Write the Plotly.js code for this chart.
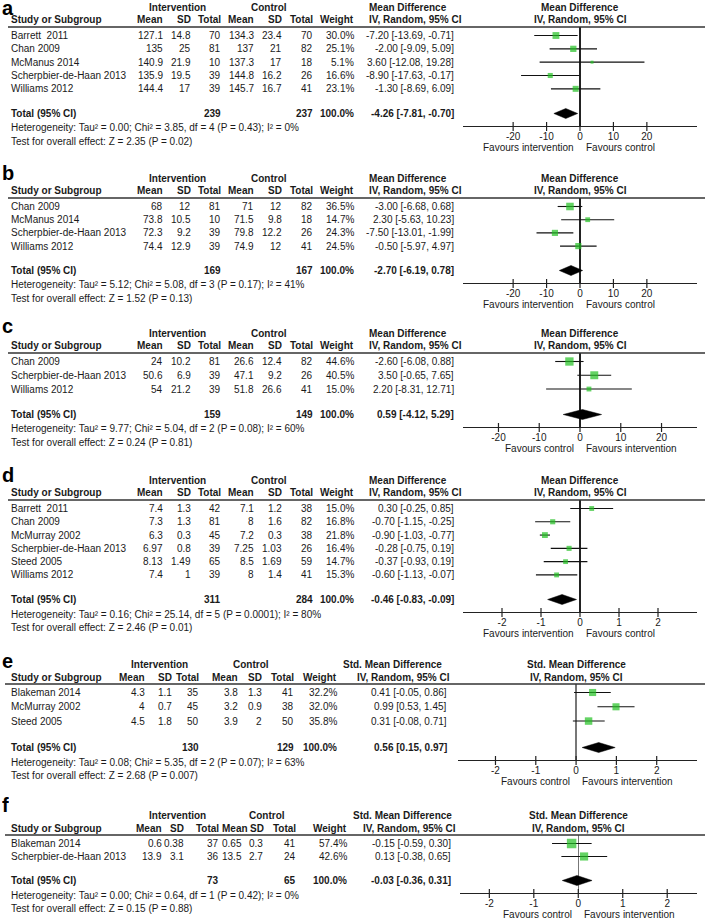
<!DOCTYPE html>
<html><head><meta charset="utf-8">
<script src="https://cdn.plot.ly/plotly-3.0.1.min.js"></script>
<style>html,body{margin:0;padding:0;background:#fff}#chart{width:709px;height:920px}</style>
</head><body><div id="chart"></div>
<script>
// ---------------- DATA ----------------
const panelLetters = ['a','b','c','d','e','f'];
const studyNames = [
  ['Barrett  2011','Chan 2009','McManus 2014','Scherpbier-de-Haan 2013','Williams 2012'],
  ['Chan 2009','McManus 2014','Scherpbier-de-Haan 2013','Williams 2012'],
  ['Chan 2009','Scherpbier-de-Haan 2013','Williams 2012'],
  ['Barrett  2011','Chan 2009','McMurray 2002','Scherpbier-de-Haan 2013','Steed 2005','Williams 2012'],
  ['Blakeman 2014','McMurray 2002','Steed 2005'],
  ['Blakeman 2014','Scherpbier-de-Haan 2013']
];
const intMean = [[127.1,135,140.9,135.9,144.4],[68,73.8,72.3,74.4],[24,50.6,54],[7.4,7.3,6.3,6.97,8.13,7.4],[4.3,4,4.5],[0.6,13.9]];
const intSD   = [[14.8,25,21.9,19.5,17],[12,10.5,9.2,12.9],[10.2,6.9,21.2],[1.3,1.3,0.3,0.8,1.49,1],[1.1,0.7,1.8],[0.38,3.1]];
const intTotal= [[70,81,10,39,39],[81,10,39,39],[81,39,39],[42,81,45,39,65,39],[35,45,50],[37,36]];
const ctlMean = [[134.3,137,137.3,144.8,145.7],[71,71.5,79.8,74.9],[26.6,47.1,51.8],[7.1,8,7.2,7.25,8.5,8],[3.8,3.2,3.9],[0.65,13.5]];
const ctlSD   = [[23.4,21,17,16.2,16.7],[12,9.8,12.2,12],[12.4,9.2,26.6],[1.2,1.6,0.3,1.03,1.69,1.4],[1.3,0.9,2],[0.3,2.7]];
const ctlTotal= [[70,82,18,26,41],[82,18,26,41],[82,26,41],[38,82,38,26,59,41],[41,38,50],[41,24]];
const weights = [[30.0,25.1,5.1,16.6,23.1],[36.5,14.7,24.3,24.5],[44.6,40.5,15.0],[15.0,16.8,21.8,16.4,14.7,15.3],[32.2,32.0,35.8],[57.4,42.6]];
const effect  = [[-7.20,-2.00,3.60,-8.90,-1.30],[-3.00,2.30,-7.50,-0.50],[-2.60,3.50,2.20],[0.30,-0.70,-0.90,-0.28,-0.37,-0.60],[0.41,0.99,0.31],[-0.15,0.13]];
const ciLow   = [[-13.69,-9.09,-12.08,-17.63,-8.69],[-6.68,-5.63,-13.01,-5.97],[-6.08,-0.65,-8.31],[-0.25,-1.15,-1.03,-0.75,-0.93,-1.13],[-0.05,0.53,-0.08],[-0.59,-0.38]];
const ciHigh  = [[-0.71,5.09,19.28,-0.17,6.09],[0.68,10.23,-1.99,4.97],[0.88,7.65,12.71],[0.85,-0.25,-0.77,0.19,0.19,-0.07],[0.86,1.45,0.71],[0.30,0.65]];
const pooledIntN = [239,169,159,311,130,73];
const pooledCtlN = [237,167,149,284,129,65];
const pooledEffect = [-4.26,-2.70,0.59,-0.46,0.56,-0.03];
const pooledLow  = [-7.81,-6.19,-4.12,-0.83,0.15,-0.36];
const pooledHigh = [-0.70,0.78,5.29,-0.09,0.97,0.31];
const heterogeneity = [
  'Heterogeneity: Tau² = 0.00; Chi² = 3.85, df = 4 (P = 0.43); I² = 0%',
  'Heterogeneity: Tau² = 5.12; Chi² = 5.08, df = 3 (P = 0.17); I² = 41%',
  'Heterogeneity: Tau² = 9.77; Chi² = 5.04, df = 2 (P = 0.08); I² = 60%',
  'Heterogeneity: Tau² = 0.16; Chi² = 25.14, df = 5 (P = 0.0001); I² = 80%',
  'Heterogeneity: Tau² = 0.08; Chi² = 5.35, df = 2 (P = 0.07); I² = 63%',
  'Heterogeneity: Tau² = 0.00; Chi² = 0.64, df = 1 (P = 0.42); I² = 0%'
];
const overallTest = [
  'Test for overall effect: Z = 2.35 (P = 0.02)',
  'Test for overall effect: Z = 1.52 (P = 0.13)',
  'Test for overall effect: Z = 0.24 (P = 0.81)',
  'Test for overall effect: Z = 2.46 (P = 0.01)',
  'Test for overall effect: Z = 2.68 (P = 0.007)',
  'Test for overall effect: Z = 0.15 (P = 0.88)'
];
const effectMeasure = ['Mean Difference','Mean Difference','Mean Difference','Mean Difference','Std. Mean Difference','Std. Mean Difference'];
const methodLabel = 'IV, Random, 95% CI';
const favoursLeft  = ['Favours intervention','Favours intervention','Favours control','Favours intervention','Favours control','Favours control'];
const favoursRight = ['Favours control','Favours control','Favours intervention','Favours control','Favours intervention','Favours intervention'];
const tickValues = [[-20,-10,0,10,20],[-20,-10,0,10,20],[-20,-10,0,10,20],[-2,-1,0,1,2],[-2,-1,0,1,2],[-2,-1,0,1,2]];

// ---------------- LAYOUT / STYLE ----------------
const W = 709, H = 920;
const px = x => x / W;
const py = y => 1 - y / H;
const FONT = 'Liberation Sans, Arial, Helvetica, sans-serif';
const TXT = '#1a1a1a';
const GREEN = '#22c022';

const panelGeom = [
  {L:27,  axis:126, labelCenter:8,   x0:463, x1:697, range:[-35,35],     cols:0, zc:'#222', lx0:8},
  {L:198, axis:283, labelCenter:173, x0:463, x1:697, range:[-35,35],     cols:0, zc:'#222', lx0:8},
  {L:353, axis:427, labelCenter:326, x0:463, x1:697, range:[-28.7,28.7], cols:0, zc:'#222', lx0:8},
  {L:500, axis:612, labelCenter:475, x0:463, x1:697, range:[-3,3],       cols:0, zc:'#222', lx0:8},
  {L:684, axis:760, labelCenter:661, x0:458, x1:697, range:[-2.93,3.0],  cols:1, zc:'#777', lx0:5},
  {L:835, axis:893, labelCenter:805, x0:460, x1:697, range:[-2.66,2.67], cols:2, zc:'#777', lx0:5}
];
// value right edges, plus header right edges where they differ
const colSets = [
  {study:10, m1:164, s1:192, t1:222, m2:255, s2:283, t2:314, w:355, eff:455, g1:177, g2:269, h1:[368,'left'], h2:[368,'left'],
   hm2:255, hs2:283},
  {study:10, m1:146, s1:173, t1:200, m2:239, s2:263, t2:295, w:338, eff:448, g1:159, g2:251, h1:[392,'center'], h2:[403,'center'],
   hm2:239, hs2:263},
  {study:10, m1:163, s1:185, t1:220, m2:243, s2:264, t2:297, w:348, eff:452, g1:177, g2:267, h1:[402,'center'], h2:[409,'center'],
   hm2:249, hs2:265}
];

const annotations = [];
const shapes = [];
const traces = [];
const layout = {
  width: W, height: H, margin:{l:0,r:0,t:0,b:0},
  paper_bgcolor:'#fff', plot_bgcolor:'rgba(0,0,0,0)',
  showlegend:false, font:{family:FONT, size:10, color:TXT}
};

function T(text, x, y, anchor, bold, size) {
  annotations.push({
    text: bold ? '<b>' + text + '</b>' : text,
    x: px(x), y: py(y), xref:'paper', yref:'paper',
    xanchor: anchor, yanchor:'middle', showarrow:false, borderpad:0,
    font:{family:FONT, size:size || 10, color:TXT}
  });
}
const fmt2 = v => v.toFixed(2);

panelLetters.forEach((letter, i) => {
  const g = panelGeom[i];
  const c = colSets[g.cols];
  const k = i === 0 ? '' : String(i + 1);
  const n = studyNames[i].length;
  const first = g.L + 8.5;
  const totalY = g.axis - 12.5;
  const rowH = (totalY - first) / (n - 1 + 1.85);
  const rowY = studyNames[i].map((_, j) => first + j * rowH);
  const zeroPx = g.x0 + (0 - g.range[0]) / (g.range[1] - g.range[0]) * (g.x1 - g.x0);

  // panel letter
  annotations.push({text:'<b>' + letter + '</b>', x:px(1), y:py(g.labelCenter), xref:'paper', yref:'paper',
    xanchor:'left', yanchor:'middle', showarrow:false, borderpad:0, height:16,
    font:{family:FONT, size:20, color:'#000'}});
  // group headers
  T('Intervention', c.g1, g.L - 20, 'center', true);
  T('Control', c.g2, g.L - 20, 'center', true);
  T(effectMeasure[i], c.h1[0], g.L - 20, c.h1[1], true);
  T(effectMeasure[i], zeroPx, g.L - 20, 'center', true);
  // column headers
  T('Study or Subgroup', c.study, g.L - 7, 'left', true);
  T('Mean', c.m1, g.L - 7, 'right', true);
  T('SD', c.s1, g.L - 7, 'right', true);
  T('Total', c.t1, g.L - 7, 'right', true);
  T('Mean', c.hm2, g.L - 7, 'right', true);
  T('SD', c.hs2, g.L - 7, 'right', true);
  T('Total', c.t2, g.L - 7, 'right', true);
  T('Weight', c.w, g.L - 7, 'right', true);
  T(methodLabel, c.h2[0], g.L - 7, c.h2[1], true);
  T(methodLabel, zeroPx, g.L - 7, 'center', true);
  // header rule
  shapes.push({type:'line', xref:'paper', yref:'paper', x0:px(g.lx0), x1:px(705), y0:py(g.L), y1:py(g.L),
    line:{color:'#333', width:1.3}});

  // study rows
  studyNames[i].forEach((name, j) => {
    const y = rowY[j];
    T(name, c.study, y, 'left');
    T(String(intMean[i][j]), c.m1, y, 'right');
    T(String(intSD[i][j]), c.s1, y, 'right');
    T(String(intTotal[i][j]), c.t1, y, 'right');
    T(String(ctlMean[i][j]), c.m2, y, 'right');
    T(String(ctlSD[i][j]), c.s2, y, 'right');
    T(String(ctlTotal[i][j]), c.t2, y, 'right');
    T(weights[i][j].toFixed(1) + '%', c.w, y, 'right');
    T(fmt2(effect[i][j]) + ' [' + fmt2(ciLow[i][j]) + ', ' + fmt2(ciHigh[i][j]) + ']', c.eff, y, 'right');
  });
  // total row
  T('Total (95% CI)', c.study, totalY, 'left', true);
  T(String(pooledIntN[i]), c.t1, totalY, 'right', true);
  T(String(pooledCtlN[i]), c.t2, totalY, 'right', true);
  T('100.0%', c.w, totalY, 'right', true);
  T(fmt2(pooledEffect[i]) + ' [' + fmt2(pooledLow[i]) + ', ' + fmt2(pooledHigh[i]) + ']', c.eff, totalY, 'right', true);
  T(heterogeneity[i], c.study, totalY + 14.5, 'left');
  T(overallTest[i], c.study, totalY + 28, 'left');
  // favours
  T(favoursLeft[i], zeroPx - 5, g.axis + 21, 'right');
  T(favoursRight[i], zeroPx + 5, g.axis + 21, 'left');

  // axes
  layout['xaxis' + k] = {
    domain:[px(g.x0), px(g.x1)], range:g.range, anchor:'y' + k,
    tickmode:'array', tickvals:tickValues[i], ticktext:tickValues[i].map(v => String(v)),
    ticks:'', showline:true, linecolor:'#222', linewidth:1.3, showgrid:false,
    zeroline:true, zerolinecolor:g.zc, zerolinewidth:1.2,
    tickfont:{family:FONT, size:10, color:TXT}, ticklabelstandoff:1, fixedrange:true
  };
  layout['yaxis' + k] = {
    domain:[py(g.axis), py(g.L)], range:[g.axis, g.L], anchor:'x' + k,
    visible:false, showgrid:false, zeroline:false, fixedrange:true
  };
  // crossing tick marks
  tickValues[i].forEach(v => {
    shapes.push({type:'line', xref:'x' + k, yref:'paper', x0:v, x1:v, y0:py(g.axis - 4), y1:py(g.axis + 5),
      line:{color:'#222', width:1.2}});
  });

  // study squares with CIs
  traces.push({
    type:'scatter', mode:'markers', xaxis:'x' + k, yaxis:'y' + k,
    x: effect[i], y: rowY, cliponaxis:false, hoverinfo:'skip',
    marker:{symbol:'square', color:GREEN, size: weights[i].map(w => Math.max(3, 1.25 * Math.sqrt(w))), line:{width:0}},
    error_x:{type:'data', symmetric:false,
      array: ciHigh[i].map((h, j) => h - effect[i][j]),
      arrayminus: ciLow[i].map((l, j) => effect[i][j] - l),
      color:'#111', thickness:1.1, width:0}
  });
  // pooled diamond
  traces.push({
    type:'scatter', mode:'lines', xaxis:'x' + k, yaxis:'y' + k, fill:'toself', fillcolor:'#000',
    x:[pooledLow[i], pooledEffect[i], pooledHigh[i], pooledEffect[i], pooledLow[i]],
    y:[totalY, totalY - 5, totalY, totalY + 5, totalY],
    line:{color:'#000', width:0.5}, hoverinfo:'skip', cliponaxis:false
  });
});

layout.annotations = annotations;
layout.shapes = shapes;
Plotly.newPlot('chart', traces, layout, {displayModeBar:false, staticPlot:true});
</script>
</body></html>
